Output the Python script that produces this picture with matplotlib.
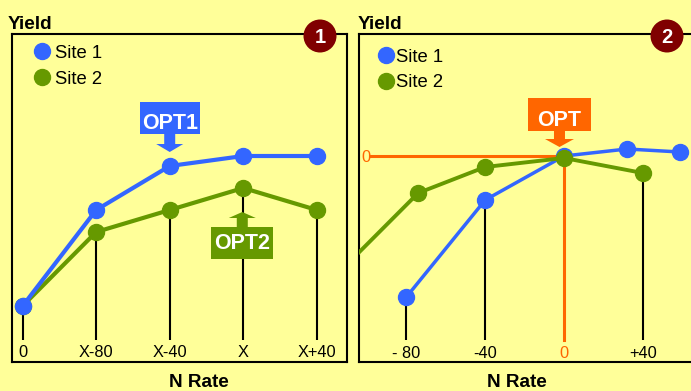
import matplotlib
matplotlib.use("Agg")
import matplotlib.pyplot as plt
from matplotlib.lines import Line2D
from matplotlib.patches import Rectangle, Polygon, Circle
from matplotlib.transforms import Affine2D, ScaledTranslation

# ---------------- data ----------------
rate_labels = ["0", "X-80", "X-40", "X", "X+40"]
rate_pos = [0, 1, 2, 3, 4]
site1_yield = [56, 152, 196, 206, 206]
site2_yield = [56, 130, 152, 174, 152]
opt1_index = 2
opt2_index = 3

rel_ticks = [-80, -40, 0, 40]
rel_tick_labels = ["- 80", "-40", "0", "+40"]
site1_rel_n = [-80, -40, 0, 32, 59]
site1_rel_yield = [65, 162, 206, 213, 210]
site2_rel_n = [-114, -74, -40, 0, 40]
site2_rel_yield = [90, 169, 195, 204, 189]
opt_rel_n = 0
opt_rel_yield = 206

# ---------------- style ----------------
BG = "#FFFF99"
BLUE = "#3366FF"
GREEN = "#669900"
ORANGE = "#FF6600"
BADGE = "#800000"
NARROW = ["Liberation Sans Narrow", "Liberation Sans", "DejaVu Sans"]
WIDE = ["Liberation Sans", "DejaVu Sans"]
TICK_SIZE = 11.8
LEGEND_SIZE = 13.3
TITLE_SIZE = 13.6

W, H = 691, 391
fig = plt.figure(figsize=(W / 100, H / 100), dpi=100, facecolor=BG)


def fpos(x, y):
    """Figure fraction from pixel position (origin top-left)."""
    return x / W, 1 - y / H


def add_panel(left, top, right, bottom):
    ax = fig.add_axes([left / W, 1 - bottom / H, (right - left) / W, (bottom - top) / H])
    ax.set_facecolor(BG)
    ax.set_xticks([])
    ax.set_yticks([])
    for s in ax.spines.values():
        s.set_linewidth(1.5)
        s.set_color("black")
    return ax


def anchored(x, y, coords):
    """Pixel-sized geometry attached to a point given in `coords`."""
    return Affine2D().scale(fig.dpi / 100) + ScaledTranslation(x, y, coords)


def callout(ax, x, y, text, color, box, shaft, head, tip, head_base, shaft_end, baseline):
    tr = anchored(x, y, ax.transData)
    bx, by, bw, bh = box
    ax.add_patch(Rectangle((bx, by), bw, bh, transform=tr, facecolor=color,
                           edgecolor="none", zorder=6, clip_on=False))
    s0, s1 = shaft
    h0, h1 = head
    poly = [(s0, shaft_end), (s1, shaft_end), (s1, head_base), (h1, head_base),
            tip, (h0, head_base), (s0, head_base)]
    ax.add_patch(Polygon(poly, closed=True, transform=tr, facecolor=color,
                         edgecolor="none", zorder=6, clip_on=False))
    ax.text(bx + bw / 2, baseline, text, transform=tr, ha="center", va="baseline",
            color="white", fontsize=15.5, fontweight="bold", family=WIDE,
            zorder=7, clip_on=False)


def badge(ax, label):
    tr = anchored(0, 1, ax.transAxes)
    ax.add_patch(Circle((308, -2), 16.5, transform=tr, facecolor=BADGE,
                        edgecolor="none", zorder=8, clip_on=False))
    ax.text(308, -9, label, transform=tr, ha="center", va="baseline", color="white",
            fontsize=14.5, fontweight="bold", family=WIDE, zorder=9, clip_on=False)


def site_legend(ax, anchor, textpad, spacing):
    handles = [Line2D([], [], ls="none", marker="o", ms=11.5, color=BLUE),
               Line2D([], [], ls="none", marker="o", ms=11.5, color=GREEN)]
    ax.legend(handles, ["Site 1", "Site 2"], loc="upper left", bbox_to_anchor=anchor,
              frameon=False, handlelength=0.8, handletextpad=textpad,
              labelspacing=spacing, borderpad=0, borderaxespad=0,
              prop={"family": NARROW, "size": LEGEND_SIZE})


# ---------------- panel 1: absolute N rate ----------------
ax1 = add_panel(12, 34, 347, 362)
ax1.set_xlim(-0.144, 4.41)
ax1.set_ylim(0, 328)

ax1.vlines(rate_pos, 22, site2_yield, color="black", lw=1.5, zorder=1)
ax1.plot(rate_pos, site2_yield, color=GREEN, lw=3, marker="o", ms=11.5, zorder=3)
ax1.plot(rate_pos, site1_yield, color=BLUE, lw=3, marker="o", ms=11.5, zorder=4)
for x, lab in zip(rate_pos, rate_labels):
    ax1.text(x, 5, lab, ha="center", va="baseline", fontsize=TICK_SIZE, family=NARROW)

callout(ax1, rate_pos[opt1_index], site1_yield[opt1_index], "OPT1", BLUE,
        box=(-30, 32, 60, 32), shaft=(-5.5, 5.5), head=(-13.5, 13.5),
        tip=(0, 14), head_base=22, shaft_end=32, baseline=37)
callout(ax1, rate_pos[opt2_index], site2_yield[opt2_index], "OPT2", GREEN,
        box=(-32, -71, 62, 32), shaft=(-6.5, 4.5), head=(-14.5, 12.5),
        tip=(-1, -24), head_base=-30, shaft_end=-39, baseline=-61)
badge(ax1, "1")
site_legend(ax1, (0.0675, 0.967), 0.3, 0.48)

# ---------------- panel 2: N rate relative to optimum ----------------
ax2 = add_panel(359, 34, 720, 362)
ax2.set_xlim(-104.06, 79.2)
ax2.set_ylim(0, 328)

drop_tops = [site1_rel_yield[site1_rel_n.index(-80)],
             site1_rel_yield[site1_rel_n.index(-40)],
             site2_rel_yield[site2_rel_n.index(40)]]
ax2.vlines([-80, -40, 40], 22, drop_tops, color="black", lw=1.5, zorder=1)
ax2.plot([-98.5, opt_rel_n], [opt_rel_yield, opt_rel_yield], color=ORANGE, lw=2.2, zorder=2)
ax2.plot([opt_rel_n, opt_rel_n], [22, opt_rel_yield], color=ORANGE, lw=2.2, zorder=2)
ax2.plot(site1_rel_n, site1_rel_yield, color=BLUE, lw=2.5, marker="o", ms=11.5, zorder=3)
ax2.plot(site2_rel_n, site2_rel_yield, color=GREEN, lw=2.8, marker="o", ms=11.5, zorder=4)
for x, lab in zip(rel_ticks, rel_tick_labels):
    ax2.text(x, 4, lab, ha="center", va="baseline", fontsize=TICK_SIZE, family=NARROW,
             color=ORANGE if x == opt_rel_n else "black")
ax2.text(-100.5, opt_rel_yield - 6, "0", ha="center", va="baseline", fontsize=TICK_SIZE,
         family=NARROW, color=ORANGE)

callout(ax2, opt_rel_n, opt_rel_yield, "OPT", ORANGE,
        box=(-36, 25, 63, 33), shaft=(-10, 1), head=(-19, 10),
        tip=(-4.5, 9), head_base=17, shaft_end=25, baseline=30)
badge(ax2, "2")
site_legend(ax2, (0.054, 0.955), 0.14, 0.45)

# ---------------- axis titles ----------------
for x in (8, 358):
    fig.text(*fpos(x, 29), "Yield", ha="left", va="baseline", fontsize=TITLE_SIZE,
             fontweight="bold", family=NARROW)
for x in (199, 517):
    fig.text(*fpos(x, 387), "N Rate", ha="center", va="baseline", fontsize=TITLE_SIZE,
             fontweight="bold", family=NARROW)

fig.savefig("out.png", dpi=100, facecolor=BG)
